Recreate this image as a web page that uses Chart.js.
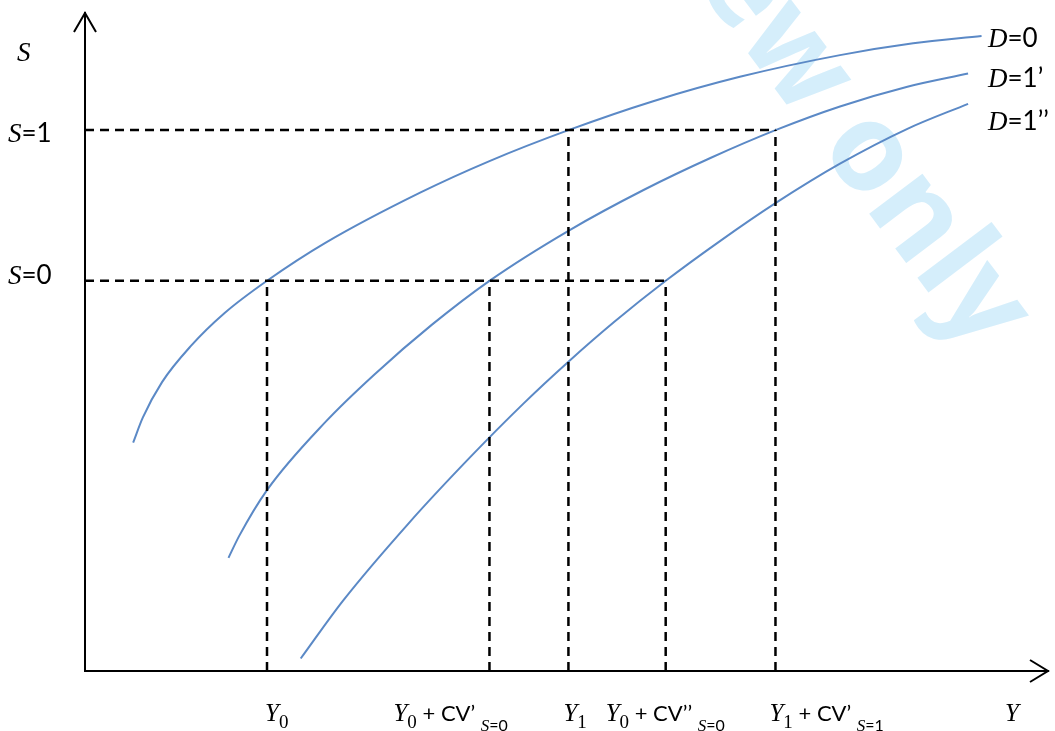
<!DOCTYPE html>
<html>
<head>
<meta charset="utf-8">
<script src="https://cdn.jsdelivr.net/npm/chart.js@4.4.0/dist/chart.umd.min.js"></script>
<style>
    html, body { margin: 0; padding: 0; background: #fff; }
</style>
</head>
<body>
<canvas id="utilityChart" width="1055" height="731"></canvas>
<script>
// curves (x = income Y, y = S), axis runs 0..100 both ways
const d0X = [5.0, 6.0, 8.0, 11.0, 14.5, 18.9, 25.0, 34.8, 42.0, 50.2, 59.0, 68.0, 78.4, 86.0, 93.1];
const d0Y = [34.7, 38.5, 43.9, 49.4, 54.4, 59.3, 65.1, 72.7, 77.5, 82.2, 86.6, 90.3, 93.6, 95.4, 96.5];

const d1X = [14.9, 16.0, 18.9, 25.0, 30.0, 36.0, 42.0, 50.2, 58.0, 65.0, 71.7, 78.4, 85.4, 91.7];
const d1Y = [17.2, 20.5, 27.5, 37.9, 45.0, 52.6, 59.3, 66.9, 73.1, 78.0, 82.2, 85.8, 88.8, 90.8];

const d2X = [22.4, 26.8, 33.7, 40.0, 45.5, 50.2, 55.0, 60.3, 65.9, 71.7, 78.4, 85.4, 91.7];
const d2Y = [1.9, 10.7, 22.6, 32.5, 40.6, 47.0, 53.1, 59.3, 65.3, 71.1, 77.1, 82.4, 86.2];

// S levels and where their dashed guides stop
const sLevels = [82.2, 59.3];
const sLevelEnds = [71.7, 60.3];

// income marks: Y0, Y0+CV'S=0, Y1, Y0+CV''S=0, Y1+CV'S=1
const xMarks = [18.9, 42.0, 50.2, 60.3, 71.7];
const xMarkTops = [59.3, 59.3, 82.2, 59.3, 82.2];

// label texts, as [text, style] pieces
const xTickLabels = [
    [["Y", "v"], ["0", "sub"]],
    [["Y", "v"], ["0", "sub"], [" + CV\u2019 ", "t"], ["S", "ss"], ["=0", "st"]],
    [["Y", "v"], ["1", "sub"]],
    [["Y", "v"], ["0", "sub"], [" + CV\u2019\u2019 ", "t"], ["S", "ss"], ["=0", "st"]],
    [["Y", "v"], ["1", "sub"], [" + CV\u2019 ", "t"], ["S", "ss"], ["=1", "st"]]
];
const sTickLabels = [
    [["S", "V"], ["=1", "T"]],
    [["S", "V"], ["=0", "T"]]
];
const curveLabels = [
    [["D", "V"], ["=0", "T"]],
    [["D", "V"], ["=1\u2019", "T"]],
    [["D", "V"], ["=1\u2019\u2019", "T"]]
];

// fonts / baseline offsets for the label pieces
const fonts = {
    v: ['italic 25px "Liberation Serif"', 0],
    sub: ['19px "Liberation Serif"', 7],
    t: ['22px Lato', 0],
    ss: ['italic 17px "Liberation Serif"', 10],
    st: ['16px Lato', 10],
    V: ['italic 27px "Liberation Serif"', 0],
    T: ['26px Lato', 0]
};
const xLabelShift = [-2, -96, -5, -60, -6];
const sLabelShift = [12, 3];
const curveLabelShift = [11, 13, 26];

const curveColor = "rgb(91,137,198)";

function drawRich(ctx, parts, x, y) {
    let cx = x;
    parts.forEach(([text, style]) => {
        ctx.font = fonts[style][0];
        ctx.fillText(text, cx, y + fonts[style][1]);
        cx += ctx.measureText(text).width;
    });
}

const toPoints = (xs, ys) => xs.map((x, i) => ({ x: x, y: ys[i] }));

// Build datasets
const datasets = [];

sLevels.forEach((s, i) => {
    datasets.push({
        data: [{ x: 0, y: s }, { x: sLevelEnds[i], y: s }],
        borderColor: "#000", borderWidth: 2.5, borderDash: [9, 6], pointRadius: 0
    });
});
xMarks.forEach((m, i) => {
    datasets.push({
        data: [{ x: m, y: 0 }, { x: m, y: xMarkTops[i] }],
        borderColor: "#000", borderWidth: 2.5, borderDash: [9, 6], pointRadius: 0
    });
});

const curveData = [toPoints(d0X, d0Y), toPoints(d1X, d1Y), toPoints(d2X, d2Y)];
curveData.forEach(pts => {
    datasets.push({
        data: pts,
        borderColor: curveColor, borderWidth: 2, pointRadius: 0,
        cubicInterpolationMode: "monotone"
    });
});

const decor = {
    id: "decor",
    beforeDraw(chart) {
        const ctx = chart.ctx;
        ctx.save();
        ctx.fillStyle = "#fff";
        ctx.fillRect(0, 0, chart.width, chart.height);
        // faint watermark behind the chart
        ctx.translate(818, 146);
        ctx.rotate(53 * Math.PI / 180);
        ctx.font = 'bold 122px "Open Sans"';
        ctx.fillStyle = "#d5eefb";
        ctx.textAlign = "right";
        ctx.fillText("Preview ", 0, 0);
        ctx.textAlign = "left";
        ctx.fillText("only", 0, 0);
        ctx.restore();
    },
    afterDraw(chart) {
        const ctx = chart.ctx;
        const xs = chart.scales.x, ys = chart.scales.y;
        const a = chart.chartArea;
        ctx.save();

        // arrow heads
        ctx.strokeStyle = "#000";
        ctx.lineWidth = 2;
        ctx.beginPath();
        ctx.moveTo(a.left - 11, a.top + 19);
        ctx.lineTo(a.left, a.top);
        ctx.lineTo(a.left + 11, a.top + 19);
        ctx.moveTo(a.right - 18, a.bottom - 11);
        ctx.lineTo(a.right, a.bottom);
        ctx.lineTo(a.right - 18, a.bottom + 11);
        ctx.stroke();

        ctx.fillStyle = "#000";
        ctx.textAlign = "left";
        ctx.textBaseline = "alphabetic";

        // x labels
        xTickLabels.forEach((parts, i) => {
            drawRich(ctx, parts, xs.getPixelForValue(xMarks[i]) + xLabelShift[i], a.bottom + 50);
        });
        drawRich(ctx, [["Y", "v"]], a.right - 43, a.bottom + 50);

        // y labels
        sTickLabels.forEach((parts, i) => {
            drawRich(ctx, parts, 8, ys.getPixelForValue(sLevels[i]) + sLabelShift[i]);
        });
        drawRich(ctx, [["S", "V"]], 17, 61);

        // curve names
        curveLabels.forEach((parts, i) => {
            const yEnd = [d0Y, d1Y, d2Y][i];
            drawRich(ctx, parts, 988, ys.getPixelForValue(yEnd[yEnd.length - 1]) + curveLabelShift[i]);
        });
        ctx.restore();
    }
};

new Chart(document.getElementById("utilityChart"), {
    type: "scatter",
    data: { datasets: datasets },
    options: {
        responsive: false,
        animation: false,
        devicePixelRatio: 1,
        showLine: true,
        layout: { padding: { left: 85, right: 7, top: 13, bottom: 60 } },
        plugins: { legend: { display: false }, tooltip: { enabled: false } },
        scales: {
            x: {
                type: "linear", min: 0, max: 100,
                grid: { display: false, drawTicks: false },
                ticks: { display: false },
                border: { display: true, color: "#000", width: 2 }
            },
            y: {
                type: "linear", min: 0, max: 100,
                grid: { display: false, drawTicks: false },
                ticks: { display: false },
                border: { display: true, color: "#000", width: 2 }
            }
        }
    },
    plugins: [decor]
});
</script>
</body>
</html>
